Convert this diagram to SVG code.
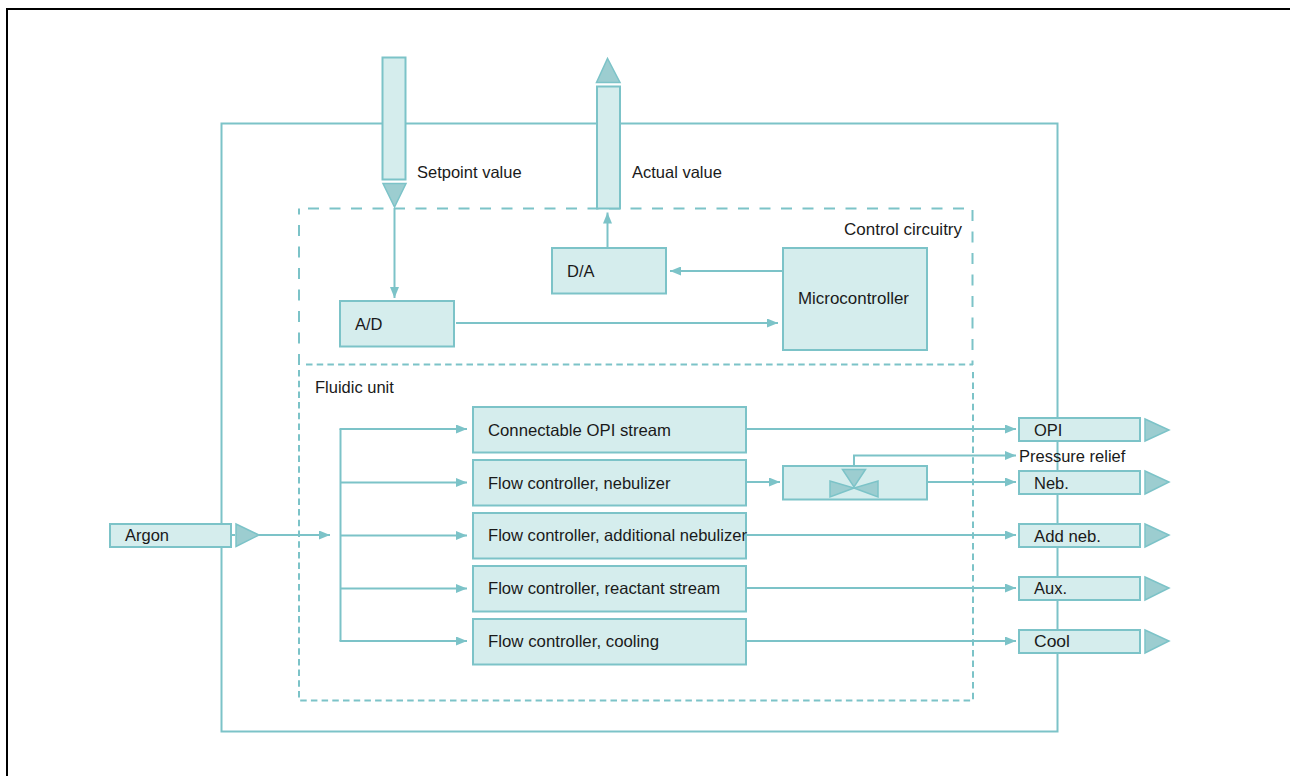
<svg xmlns="http://www.w3.org/2000/svg" width="1290" height="776" viewBox="0 0 1290 776">
<style>
text{font-family:"Liberation Sans",Arial,sans-serif;font-size:16.5px;fill:#1a1a1a}
.b{fill:#d5eded;stroke:#7cc3c8;stroke-width:2}
.t{fill:#9ccdd0;stroke:#7cc3c8;stroke-width:1.5;stroke-linejoin:miter}
.l{fill:none;stroke:#7cc3c8;stroke-width:2}
.o{fill:none;stroke:#7cc3c8;stroke-width:2}
.d{fill:none;stroke:#7cc3c8;stroke-width:2;stroke-dasharray:11 10.500}
.s{fill:none;stroke:#7cc3c8;stroke-width:2;stroke-dasharray:6.500 4.200}
.a{stroke:#7cc3c8;stroke-width:2;fill:none;marker-end:url(#m)}
</style>
<defs>
<marker id="m" markerUnits="userSpaceOnUse" markerWidth="11" markerHeight="9" refX="11" refY="4.500" orient="auto"><path d="M0 0L11 4.500L0 9Z" fill="#7cc3c8"/></marker>
</defs>
<rect width="1290" height="776" fill="#fff"/>
<path d="M7 776V9H1290" fill="none" stroke="#000" stroke-width="2"/>
<g id="frames">
<rect id="outer" class="o" x="221.500" y="123.500" width="836" height="608"/>
<path class="d" d="M964 208.500H299"/>
<path class="d" d="M972.500 210V365"/>
<path class="d" d="M299 365V208.500"/>
<path class="s" d="M306 364.500H973"/>
<path class="s" d="M299 370V700.500H973V372"/>
</g>
<g id="connectors">
<path class="a" d="M394.500 208V298"/>
<path class="a" d="M607.500 247V212.500"/>
<path class="a" d="M782 271H670"/>
<path class="a" d="M456 323H778"/>
<path class="l" d="M232 535H235"/>
<path class="a" d="M259 535H330"/>
<path class="l" d="M340.500 429V641"/>
<path class="a" d="M339.500 429H467"/>
<path class="a" d="M340.500 482.500H467"/>
<path class="a" d="M340.500 535.500H467"/>
<path class="a" d="M340.500 588.500H467"/>
<path class="a" d="M339.500 641H467"/>
<path class="a" d="M747 429H1016"/>
<path class="a" d="M747 482H780"/>
<path class="a" d="M927 482H1016"/>
<path class="a" d="M747 535H1016"/>
<path class="a" d="M747 588H1016"/>
<path class="a" d="M747 641H1016"/>
<path class="a" d="M854 466V455.500H1016"/>
</g>
<g id="setpoint">
<rect class="b" x="382.500" y="57.500" width="23" height="122"/>
<path class="t" d="M383 183.500H406L394.500 207Z"/>
<text x="417" y="178">Setpoint value</text>
</g>
<g id="actual">
<rect class="b" x="597" y="86.500" width="23" height="122"/>
<path class="t" d="M596.500 82.500H620L607.500 58.500Z"/>
<text x="632" y="178">Actual value</text>
</g>
<g id="control-label"><text x="844" y="235" textLength="118" lengthAdjust="spacingAndGlyphs">Control circuitry</text></g>
<g id="fluidic-label"><text x="315" y="393">Fluidic unit</text></g>
<g id="da"><rect class="b" x="552" y="248" width="114" height="45.500"/><text x="567" y="277">D/A</text></g>
<g id="ad"><rect class="b" x="340" y="301" width="114" height="45.500"/><text x="355" y="330">A/D</text></g>
<g id="micro"><rect class="b" x="783" y="248" width="144" height="102"/><text x="798" y="304" textLength="111" lengthAdjust="spacingAndGlyphs">Microcontroller</text></g>
<g id="opi-stream"><rect class="b" x="473" y="407" width="273" height="45.500"/><text x="488" y="436" textLength="183" lengthAdjust="spacingAndGlyphs">Connectable OPI stream</text></g>
<g id="neb-ctrl"><rect class="b" x="473" y="460" width="273" height="45.500"/><text x="488" y="489">Flow controller, nebulizer</text></g>
<g id="add-ctrl"><rect class="b" x="473" y="513" width="273" height="45.500"/><text x="488" y="541" textLength="259" lengthAdjust="spacingAndGlyphs">Flow controller, additional nebulizer</text></g>
<g id="reactant"><rect class="b" x="473" y="566" width="273" height="45.500"/><text x="488" y="594" textLength="232" lengthAdjust="spacingAndGlyphs">Flow controller, reactant stream</text></g>
<g id="cooling"><rect class="b" x="473" y="619" width="273" height="45.500"/><text x="488" y="647" textLength="171" lengthAdjust="spacingAndGlyphs">Flow controller, cooling</text></g>
<g id="valve">
<rect class="b" x="783" y="466" width="144" height="33.500"/>
<path class="t" d="M842.500 469.500H865.500L854 487Z"/>
<path class="t" d="M830 481V497L854 488Z"/>
<path class="t" d="M878 481V497L854 488Z"/>
</g>
<g id="pressure"><text x="1019" y="462">Pressure relief</text></g>
<g id="argon"><rect class="b" x="110" y="524" width="121" height="23"/><path class="t" d="M236 524V546.500L259 535Z"/><text x="125" y="541">Argon</text></g>
<g id="opi"><rect class="b" x="1019" y="418" width="121" height="23"/><path class="t" d="M1145 419V441L1169 430Z"/><text x="1034" y="436">OPI</text></g>
<g id="neb"><rect class="b" x="1019" y="471" width="121" height="23"/><path class="t" d="M1145 471V494L1169 482Z"/><text x="1034" y="489">Neb.</text></g>
<g id="addneb"><rect class="b" x="1019" y="524" width="121" height="23"/><path class="t" d="M1145 524V547L1169 535Z"/><text x="1034" y="542" textLength="67" lengthAdjust="spacingAndGlyphs">Add neb.</text></g>
<g id="aux"><rect class="b" x="1019" y="577" width="121" height="23"/><path class="t" d="M1145 577V600L1169 588Z"/><text x="1034" y="594">Aux.</text></g>
<g id="cool"><rect class="b" x="1019" y="630" width="121" height="23"/><path class="t" d="M1145 630V653L1169 641Z"/><text x="1034" y="647" textLength="36" lengthAdjust="spacingAndGlyphs">Cool</text></g>
</svg>
